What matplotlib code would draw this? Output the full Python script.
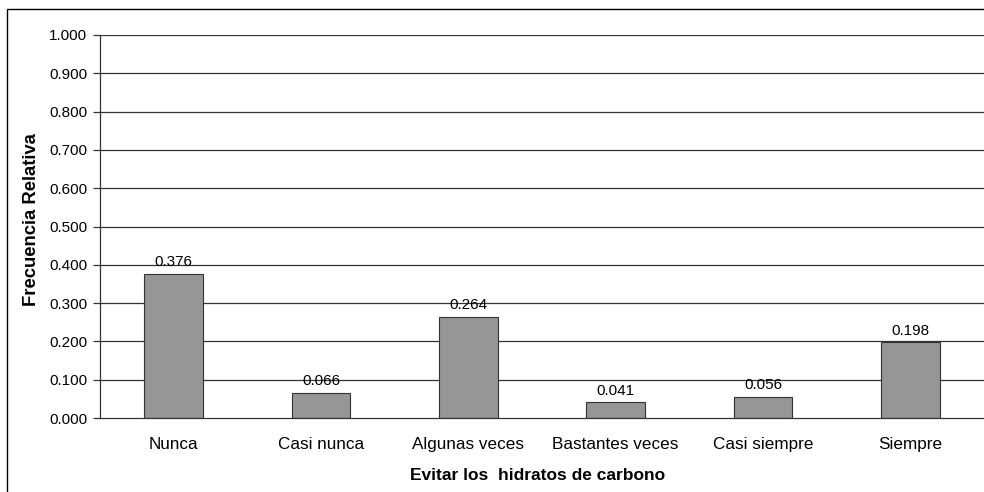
import numpy as np
import matplotlib
matplotlib.use("Agg")
import matplotlib.pyplot as plt
from matplotlib.patches import Rectangle

categories = ["Nunca", "Casi nunca", "Algunas veces", "Bastantes veces",
              "Casi siempre", "Siempre"]
values = [0.376, 0.066, 0.264, 0.041, 0.056, 0.198]
yticks = [0.0, 0.1, 0.2, 0.3, 0.4, 0.5, 0.6, 0.7, 0.8, 0.9, 1.0]

plt.rcParams["font.family"] = ["Liberation Sans", "DejaVu Sans"]

W, H = 984, 492
fig = plt.figure(figsize=(W / 100, H / 100), dpi=100)
ax = fig.add_axes([100 / W, 1 - 418 / H, 884 / W, 383 / H])

# outer chart frame (cut off on right / bottom)
fig.patches.append(Rectangle((7 / W, -0.05), 1.2, 1 - 9 / H + 0.05,
                             transform=fig.transFigure, fill=False,
                             edgecolor="black", lw=1.0))

x = np.arange(len(categories))
ax.set_axisbelow(True)
for t in yticks[1:]:
    ax.axhline(t, color="#333333", lw=0.9, zorder=0)
ax.bar(x, values, width=0.4, color="#969696", edgecolor="#333333",
       lw=0.8, zorder=2)
for xi, v in zip(x, values):
    ax.text(xi, v + 0.012, f"{v:.3f}", ha="center", va="bottom", fontsize=11)

ax.set_xlim(-0.5, len(categories) - 0.5)
ax.set_ylim(0, 1.0)
ax.set_yticks(yticks)
ax.set_yticklabels([f"{t:.3f}" for t in yticks], fontsize=11)
ax.set_xticks(x)
ax.set_xticklabels(categories, fontsize=12.3)
ax.tick_params(axis="x", length=0, pad=14)
ax.tick_params(axis="y", length=5, width=0.9, color="#333333", pad=4)

for s in ["top", "right"]:
    ax.spines[s].set_visible(False)
ax.spines["left"].set_color("#333333")
ax.spines["bottom"].set_color("#333333")
ax.spines["left"].set_linewidth(0.9)
ax.spines["bottom"].set_linewidth(0.9)

fig.text(32 / W, 1 - 220 / H, "Frecuencia Relativa", rotation=90,
         ha="center", va="center", fontsize=13.3, weight="bold")
fig.text(538 / W, 1 - 476 / H, "Evitar los  hidratos de carbono",
         ha="center", va="center", fontsize=12.5, weight="bold")

fig.savefig("out.png", dpi=100)
